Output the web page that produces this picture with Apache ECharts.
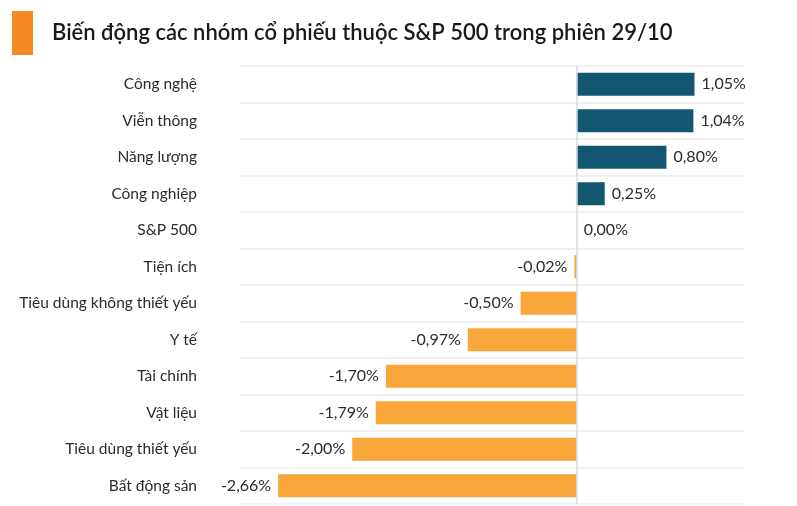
<!DOCTYPE html>
<html>
<head>
<meta charset="utf-8">
<script src="https://cdn.jsdelivr.net/npm/echarts@6/dist/echarts.min.js"></script>
<style>html,body{margin:0;padding:0;background:#fff}#c{width:797px;height:506px}</style>
</head>
<body>
<div id="c"></div>
<script>
const categories = ["Công nghệ","Viễn thông","Năng lượng","Công nghiệp","S&P 500","Tiện ích","Tiêu dùng không thiết yếu","Y tế","Tài chính","Vật liệu","Tiêu dùng thiết yếu","Bất động sản"];
const values = [1.05, 1.04, 0.80, 0.25, 0.00, -0.02, -0.50, -0.97, -1.70, -1.79, -2.00, -2.66];
const titleText = "Biến động các nhóm cổ phiếu thuộc S&P 500 trong phiên 29/10";

const chart = echarts.init(document.getElementById('c'), null, {renderer: 'canvas'});
const fmt = v => v.toFixed(2).replace('.', ',') + '%';
const data = values.map(v => ({
  value: v,
  itemStyle: {color: v >= 0 ? '#135672' : '#F9A63A'},
  label: {position: v < 0 ? 'left' : 'right'}
}));

chart.setOption({
  animation: false,
  textStyle: {fontFamily: 'Lato'},
  graphic: [
    {type: 'rect', shape: {x: 12, y: 11, width: 21, height: 44}, style: {fill: '#F58A25'}},
    {type: 'text', left: 52, top: 22, style: {text: titleText, font: '600 22px Lato', fill: '#1a1a1a'}}
  ],
  grid: {left: 240, right: 52, top: 66, bottom: 2, containLabel: false},
  xAxis: {
    type: 'value', min: -3, max: 1.5,
    axisLine: {show: false}, axisTick: {show: false}, axisLabel: {show: false},
    splitLine: {show: false}
  },
  yAxis: {
    type: 'category', data: categories, inverse: true,
    axisLine: {show: false}, axisTick: {show: false},
    axisLabel: {color: '#2b2b2b', fontSize: 15.5, margin: 43, fontFamily: 'Lato'},
    splitLine: {show: true, lineStyle: {color: '#f1f1f1', width: 2}}
  },
  series: [{
    type: 'bar',
    data: data,
    barWidth: 23,
    label: {show: true, color: '#2b2b2b', fontSize: 16, distance: 7, fontFamily: 'Lato', formatter: p => fmt(p.value)},
    markLine: {
      silent: true, symbol: 'none', label: {show: false},
      lineStyle: {color: '#d3dbe3', width: 1.5, type: 'solid'},
      data: [{xAxis: 0}]
    }
  }]
});
</script>
</body>
</html>
